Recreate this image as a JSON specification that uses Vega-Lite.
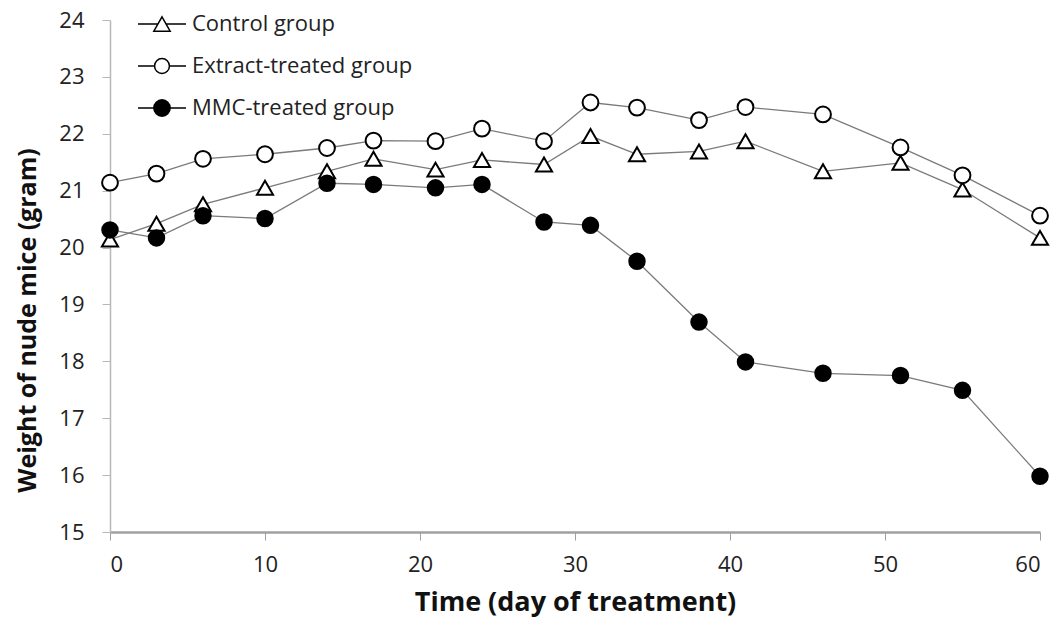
{
  "$schema": "https://vega.github.io/schema/vega-lite/v6.json",
  "width": 930,
  "height": 512,
  "autosize": {"type": "none"},
  "padding": {"left": 110, "top": 20, "right": 17, "bottom": 89},
  "background": "white",
  "config": {"view": {"stroke": null}, "font": "Open Sans"},
  "data": {"values": [
    {"day": 0, "group": "Control group", "weight": 20.14},
    {"day": 3, "group": "Control group", "weight": 20.42},
    {"day": 6, "group": "Control group", "weight": 20.76},
    {"day": 10, "group": "Control group", "weight": 21.05},
    {"day": 14, "group": "Control group", "weight": 21.34},
    {"day": 17, "group": "Control group", "weight": 21.56},
    {"day": 21, "group": "Control group", "weight": 21.37},
    {"day": 24, "group": "Control group", "weight": 21.54},
    {"day": 28, "group": "Control group", "weight": 21.46},
    {"day": 31, "group": "Control group", "weight": 21.96},
    {"day": 34, "group": "Control group", "weight": 21.64},
    {"day": 38, "group": "Control group", "weight": 21.69},
    {"day": 41, "group": "Control group", "weight": 21.87},
    {"day": 46, "group": "Control group", "weight": 21.34},
    {"day": 51, "group": "Control group", "weight": 21.49},
    {"day": 55, "group": "Control group", "weight": 21.02},
    {"day": 60, "group": "Control group", "weight": 20.17},
    {"day": 0, "group": "Extract-treated group", "weight": 21.14},
    {"day": 3, "group": "Extract-treated group", "weight": 21.30},
    {"day": 6, "group": "Extract-treated group", "weight": 21.56},
    {"day": 10, "group": "Extract-treated group", "weight": 21.64},
    {"day": 14, "group": "Extract-treated group", "weight": 21.75},
    {"day": 17, "group": "Extract-treated group", "weight": 21.88},
    {"day": 21, "group": "Extract-treated group", "weight": 21.87},
    {"day": 24, "group": "Extract-treated group", "weight": 22.09},
    {"day": 28, "group": "Extract-treated group", "weight": 21.87},
    {"day": 31, "group": "Extract-treated group", "weight": 22.55},
    {"day": 34, "group": "Extract-treated group", "weight": 22.46},
    {"day": 38, "group": "Extract-treated group", "weight": 22.24},
    {"day": 41, "group": "Extract-treated group", "weight": 22.47},
    {"day": 46, "group": "Extract-treated group", "weight": 22.34},
    {"day": 51, "group": "Extract-treated group", "weight": 21.76},
    {"day": 55, "group": "Extract-treated group", "weight": 21.27},
    {"day": 60, "group": "Extract-treated group", "weight": 20.56},
    {"day": 0, "group": "MMC-treated group", "weight": 20.31},
    {"day": 3, "group": "MMC-treated group", "weight": 20.17},
    {"day": 6, "group": "MMC-treated group", "weight": 20.56},
    {"day": 10, "group": "MMC-treated group", "weight": 20.51},
    {"day": 14, "group": "MMC-treated group", "weight": 21.13},
    {"day": 17, "group": "MMC-treated group", "weight": 21.11},
    {"day": 21, "group": "MMC-treated group", "weight": 21.05},
    {"day": 24, "group": "MMC-treated group", "weight": 21.11},
    {"day": 28, "group": "MMC-treated group", "weight": 20.45},
    {"day": 31, "group": "MMC-treated group", "weight": 20.39},
    {"day": 34, "group": "MMC-treated group", "weight": 19.76},
    {"day": 38, "group": "MMC-treated group", "weight": 18.69},
    {"day": 41, "group": "MMC-treated group", "weight": 17.99},
    {"day": 46, "group": "MMC-treated group", "weight": 17.79},
    {"day": 51, "group": "MMC-treated group", "weight": 17.75},
    {"day": 55, "group": "MMC-treated group", "weight": 17.49},
    {"day": 60, "group": "MMC-treated group", "weight": 15.98}
  ]},
  "encoding": {
    "x": {
      "field": "day", "type": "quantitative",
      "scale": {"domain": [0, 60], "nice": false},
      "axis": {
        "values": [0, 10, 20, 30, 40, 50, 60],
        "grid": false,
        "title": "Time (day of treatment)",
        "titleFont": "Open Sans", "titleFontSize": 27, "titleFontWeight": "bold", "titleColor": "#111",
        "titlePadding": 14,
        "labelFont": "Open Sans", "labelFontSize": 22, "labelColor": "#222", "labelPadding": 14,
        "domainColor": "#a0a0a0", "domainWidth": 2.5,
        "tickColor": "#a0a0a0", "tickSize": 8, "tickWidth": 1
      }
    },
    "y": {
      "field": "weight", "type": "quantitative",
      "scale": {"domain": [15, 24], "nice": false, "zero": false},
      "axis": {
        "values": [15, 16, 17, 18, 19, 20, 21, 22, 23, 24],
        "grid": false,
        "title": "Weight of nude mice (gram)",
        "titleFont": "Open Sans", "titleFontSize": 25, "titleFontWeight": "bold", "titleColor": "#111",
        "titlePadding": 18, "titleY": 300,
        "labelFont": "Open Sans", "labelFontSize": 22, "labelColor": "#222", "labelPadding": 18,
        "domainColor": "#b8b8b8", "domainWidth": 1.5,
        "tickColor": "#b8b8b8", "tickSize": 8, "tickWidth": 1
      }
    }
  },
  "layer": [
    {
      "mark": {"type": "line", "color": "#7a7a7a", "strokeWidth": 1.3},
      "encoding": {"detail": {"field": "group"}}
    },
    {
      "mark": {"type": "point", "filled": true, "stroke": "black", "strokeWidth": 2, "opacity": 1},
      "encoding": {
        "shape": {"field": "group", "type": "nominal",
          "scale": {"domain": ["Control group", "Extract-treated group", "MMC-treated group"], "range": ["triangle-up", "circle", "circle"]},
          "legend": null},
        "fill": {"field": "group", "type": "nominal",
          "scale": {"domain": ["Control group", "Extract-treated group", "MMC-treated group"], "range": ["white", "white", "black"]},
          "legend": null},
        "size": {"field": "group", "type": "nominal",
          "scale": {"domain": ["Control group", "Extract-treated group", "MMC-treated group"], "range": [260, 240, 300]},
          "legend": null}
      }
    },
    {
      "transform": [{"filter": "datum.weight < 0"}],
      "mark": {"type": "point", "filled": false, "stroke": "black", "strokeWidth": 1.5, "opacity": 1},
      "encoding": {
        "shape": {"field": "group", "type": "nominal",
          "scale": {"domain": ["Control group", "Extract-treated group", "MMC-treated group"],
            "range": [
              "M-1,0H-0.17M0.17,0H1M0,-0.3L0.34,0.3L-0.34,0.3Z",
              "M-1,0H-0.31M0.31,0H1M-0.31,0A0.31,0.31 0 1,0 0.31,0A0.31,0.31 0 1,0 -0.31,0Z",
              "M-1,0H1M-0.34,0A0.34,0.34 0 1,0 0.34,0A0.34,0.34 0 1,0 -0.34,0ZM-0.28,0A0.28,0.28 0 1,0 0.28,0A0.28,0.28 0 1,0 -0.28,0ZM-0.22,0A0.22,0.22 0 1,0 0.22,0A0.22,0.22 0 1,0 -0.22,0ZM-0.16,0A0.16,0.16 0 1,0 0.16,0A0.16,0.16 0 1,0 -0.16,0ZM-0.1,0A0.1,0.1 0 1,0 0.1,0A0.1,0.1 0 1,0 -0.1,0ZM-0.04,0A0.04,0.04 0 1,0 0.04,0A0.04,0.04 0 1,0 -0.04,0Z"
            ]},
          "legend": {
            "title": null, "orient": "none", "legendX": 27, "legendY": -21,
            "symbolSize": 2304, "symbolStrokeColor": "black", "symbolStrokeWidth": 1.5,
            "symbolFillColor": "white", "symbolOpacity": 1,
            "labelFont": "Open Sans", "labelFontSize": 22, "labelColor": "#222", "labelOffset": 5,
            "labelLimit": 400, "rowPadding": 6
          }}
      }
    }
  ],
  "resolve": {"scale": {"shape": "independent", "fill": "independent", "size": "independent"}, "legend": {"shape": "independent", "fill": "independent"}}
}
